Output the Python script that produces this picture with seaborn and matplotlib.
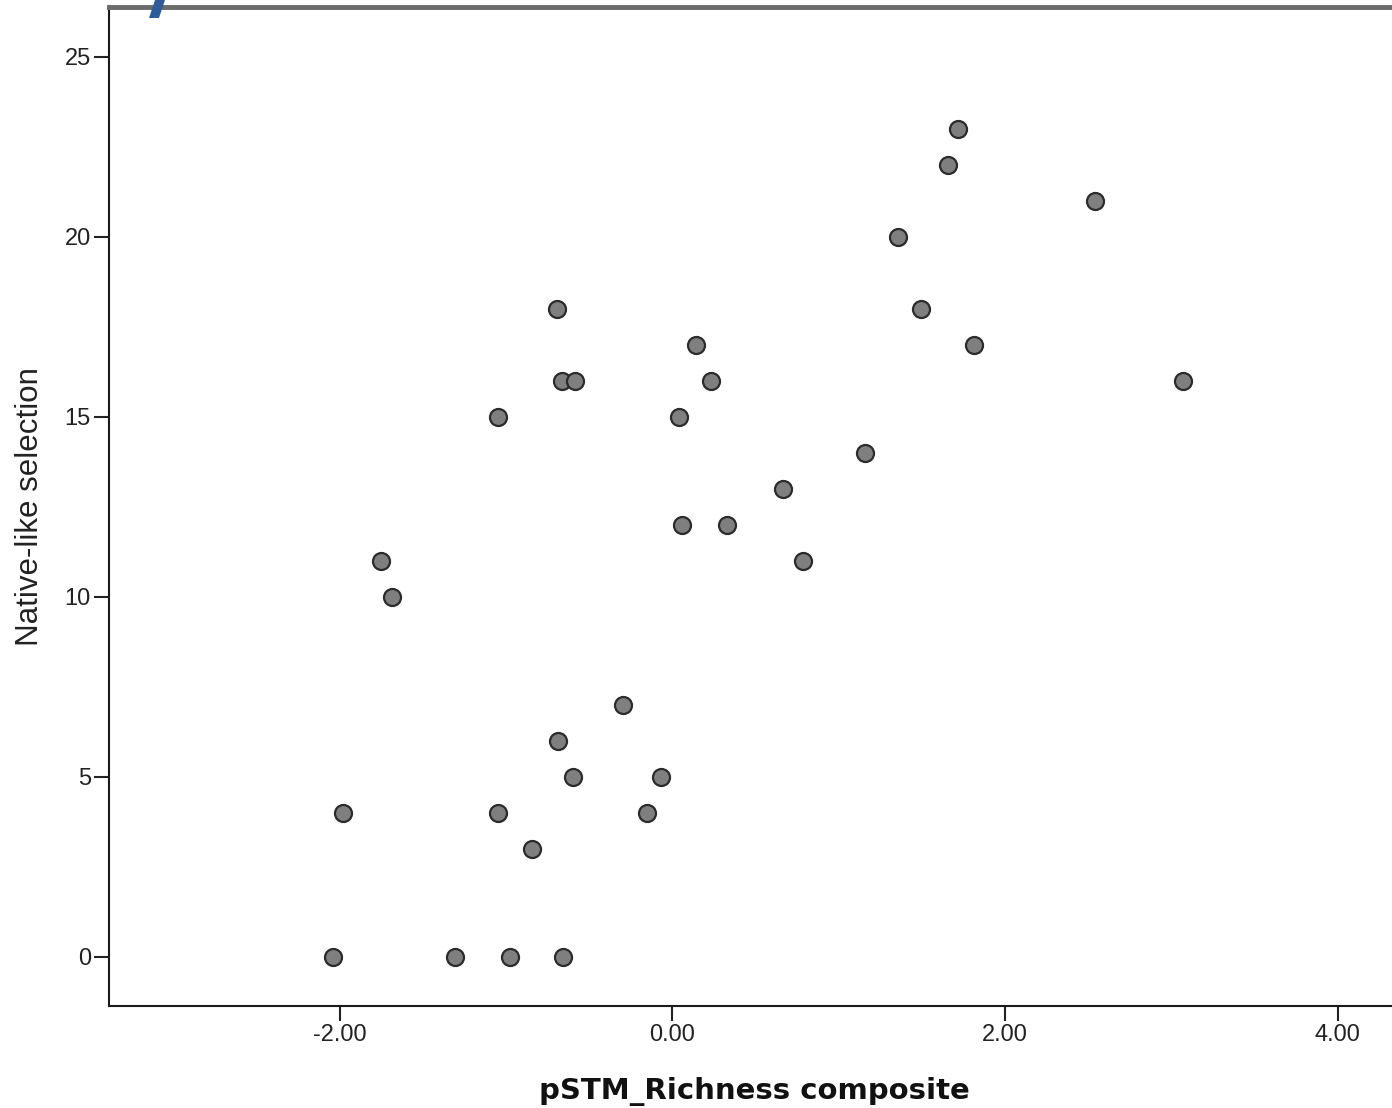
import matplotlib
matplotlib.use("Agg")
import matplotlib.pyplot as plt
from matplotlib.patches import Polygon
import seaborn as sns
import pandas as pd

# pSTM richness composite scores and native-like selection counts
richness = [-2.04, -1.98, -1.75, -1.685, -1.31, -1.047, -1.049, -0.977, -0.847,
            -0.696, -0.69, -0.666, -0.586, -0.60, -0.66, -0.299, -0.152, -0.071,
            0.037, 0.059, 0.14, 0.232, 0.326, 0.666, 0.787, 1.158, 1.358, 1.492,
            1.655, 1.715, 1.815, 2.541, 3.072]
selection = [0, 4, 11, 10, 0, 15, 4, 0, 3,
             18, 6, 16, 16, 5, 0, 7, 4, 5,
             15, 12, 17, 16, 12, 13, 11, 14, 20, 18,
             22, 23, 17, 21, 16]

x_ticks = [-2.0, 0.0, 2.0, 4.0]
x_tick_labels = ["-2.00", "0.00", "2.00", "4.00"]
y_ticks = [0, 5, 10, 15, 20, 25]

df = pd.DataFrame({"pSTM_Richness composite": richness,
                   "Native-like selection": selection})

sns.set_style("white")
plt.rcParams["font.family"] = ["Liberation Sans", "DejaVu Sans"]

W, H = 1392, 1108
fig = plt.figure(figsize=(W / 100, H / 100), dpi=100)
fig.patch.set_facecolor("white")

left_px, right_px, bottom_px, top_px = 109, 1400, 1006, 6.5
ax = fig.add_axes([left_px / W, 1 - bottom_px / H,
                   (right_px - left_px) / W, (bottom_px - top_px) / H])

sns.scatterplot(data=df, x="pSTM_Richness composite", y="Native-like selection",
                ax=ax, s=150, color="#7f7f7f", edgecolor="#2b2b2b",
                linewidth=1.6, zorder=3, legend=False)

ax.set_xlim(-3.388, 4.375)
ax.set_ylim(-1.37, 26.39)

ax.set_xticks(x_ticks)
ax.set_xticklabels(x_tick_labels)
ax.set_yticks(y_ticks)
ax.tick_params(axis="both", direction="out", length=11, width=1.5,
               color="#222222", labelsize=17, labelcolor="#222222", pad=2,
               bottom=True, left=True)

for side in ["left", "bottom"]:
    ax.spines[side].set_color("#1a1a1a")
    ax.spines[side].set_linewidth(1.5)
ax.spines["top"].set_color("#6b6b6b")
ax.spines["top"].set_linewidth(3.5)
ax.spines["right"].set_visible(False)

ax.set_xlabel("pSTM_Richness composite", fontsize=21, fontweight="bold",
              family=["DejaVu Sans"], color="#111111", labelpad=22)
ax.set_ylabel("Native-like selection", fontsize=22.5, color="#222222",
              labelpad=14)

# Cut-off panel letter at the top edge
fig.patches.append(Polygon([(149 / W, 1 - 18 / H), (159 / W, 1 - 18 / H),
                            (165 / W, 1.0), (155 / W, 1.0)],
                           closed=True, transform=fig.transFigure,
                           facecolor="#2f5c99", edgecolor="none"))

fig.savefig("out.png", dpi=100)
